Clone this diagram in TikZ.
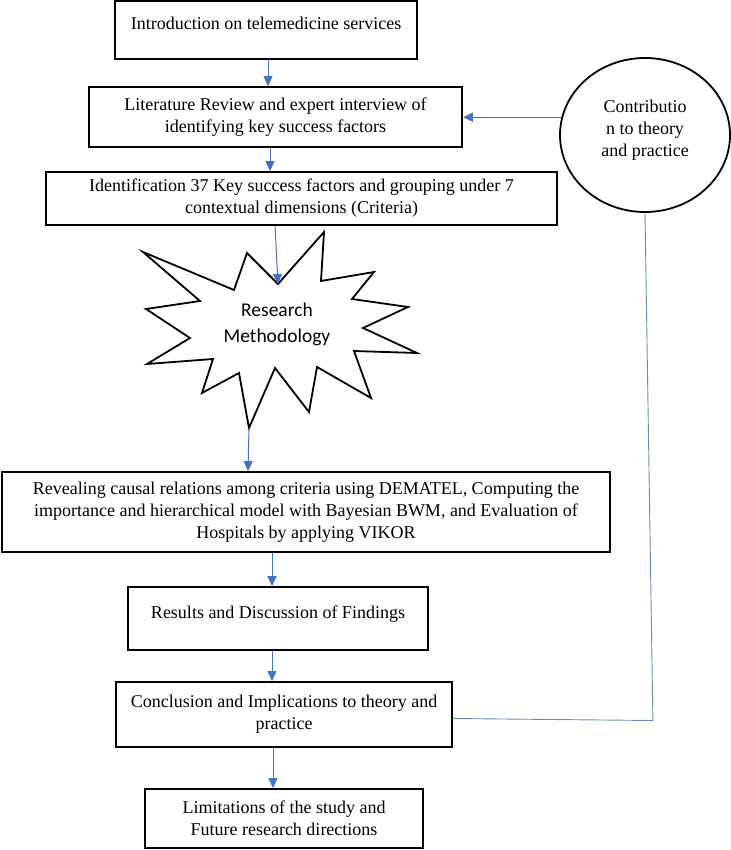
\documentclass[tikz,border=0pt]{standalone}
\usepackage{fontspec}
\setmainfont{Liberation Serif}
\newfontfamily\carlito{Carlito}
\usetikzlibrary{arrows.meta}
\usetikzlibrary{shapes.geometric}
\usetikzlibrary{calc}
\definecolor{flowblue}{RGB}{68,114,196}
\definecolor{backblue}{RGB}{105,138,192}

\begin{document}
\begin{tikzpicture}[x=1pt,y=-1pt,
			box/.style={draw,line width=1.8pt,align=center,inner sep=2pt,font=\fontsize{18}{22}\selectfont},
			flow/.style={flowblue,line width=1pt,-{Triangle[length=10pt,width=9pt]}},
			back/.style={backblue,line width=0.9pt}]
			\useasboundingbox (0,0) rectangle (730,850);
			\node at (266,30) [box,minimum width=302,minimum height=58,text depth=14pt] (intro) {Introduction on telemedicine services};
			\node at (275.5,117) [box,minimum width=373,minimum height=60] (litrev) {Literature Review and expert interview of\\identifying key success factors};
			\node at (301.5,198.5) [box,minimum width=511,minimum height=53] (ident) {Identification 37 Key success factors and grouping under 7\\contextual dimensions (Criteria)};
			\node at (645,135) [ellipse,draw,line width=1.8pt,minimum width=170,minimum height=154,align=center,font=\fontsize{18}{22}\selectfont,text depth=14pt] (contrib) {Contributio\\n to theory\\and practice};
			% research methodology star
			\draw [line width=1.8pt,line join=miter] (278,284) coordinate (rmtop) -- (324,232) -- (321,281) -- (374,272) -- (352,299) -- (408,307) -- (363,328) -- (417,353) -- (354,351) -- (371,398) -- (317,367) -- (309,412) -- (275,368) -- (249,428) coordinate (rmbot) -- (239,373) -- (202,393) -- (213,359) -- (147,364) -- (190,338) -- (146,309) -- (200,301) -- (143,252) -- (234,290) -- (247,253) -- cycle;
			\node at (277,324) [font=\carlito\fontsize{19.5}{26}\selectfont,align=center] (rm) {Research\\Methodology};
			\node at (306,512) [box,minimum width=608,minimum height=80] (reveal) {Revealing causal relations among criteria using DEMATEL, Computing the\\importance and hierarchical model with Bayesian BWM, and Evaluation of\\Hospitals by applying VIKOR};
			\node at (278,618.5) [box,minimum width=300,minimum height=63,text depth=13pt] (results) {Results and Discussion of Findings};
			\node at (284,714.5) [box,minimum width=336,minimum height=65] (concl) {Conclusion and Implications to theory and\\practice};
			\node at (284,818.5) [box,minimum width=278,minimum height=59] (limit) {Limitations of the study and\\Future research directions};
			\draw [flow] ($(intro.south)+(2,0)$) -- ($(litrev.north)+(-7.5,0)$);
			\draw [flow] ($(litrev.south)+(-5.5,0)$) -- ($(ident.north)+(-31.5,0)$);
			\draw [flow] ($(ident.south)+(-26.5,0)$) -- (rmtop);
			\draw [flow] (rmbot) -- ($(reveal.north)+(-58,0)$);
			\draw [flow] ($(reveal.south)+(-34,0)$) -- ($(results.north)+(-6,0)$);
			\draw [flow] ($(results.south)+(-6,0)$) -- ($(concl.north)+(-12,0)$);
			\draw [flow] ($(concl.south)+(-11,0)$) -- ($(limit.north)+(-11,0)$);
			\draw [back] ($(concl.east)+(0,4)$) -- ++(200,2) -- (contrib.south);
			\draw [flow] (contrib.168) -- (contrib.168 -| litrev.east);
\end{tikzpicture}
\end{document}
